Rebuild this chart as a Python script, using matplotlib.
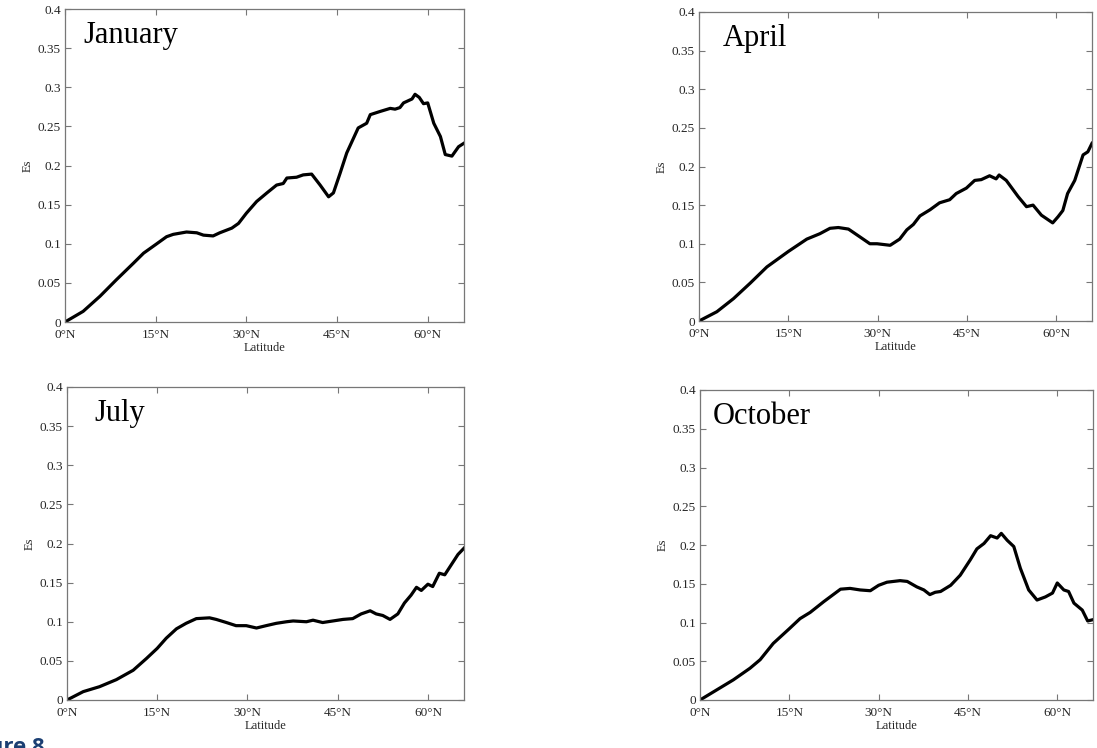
import numpy as np
import matplotlib
matplotlib.use('Agg')
import matplotlib.pyplot as plt

plt.rcParams['font.family'] = ['Liberation Serif', 'DejaVu Serif']

# values (latitude in degrees N, Es)
jan_lat = [0, 3.0, 5.8, 8.5, 11.3, 13.0, 15.0, 16.8, 17.9, 20.1, 21.8, 22.9, 24.5, 25.6, 27.6,
           28.7, 30.0, 31.7, 33.4, 35.0, 36.1, 36.7, 38.3, 39.4, 40.8, 42.2, 43.6, 44.4, 45.5,
           46.6, 48.5, 49.9, 50.5, 52.1, 53.8, 54.6, 55.4, 56.0, 57.4, 57.9, 58.6, 59.3, 60.0,
           61.0, 62.1, 62.9, 64.0, 65.1, 66.1]
jan_es = [0, 0.0136, 0.033, 0.054, 0.075, 0.088, 0.099, 0.109, 0.112, 0.115, 0.114, 0.111, 0.110,
          0.114, 0.120, 0.126, 0.139, 0.154, 0.165, 0.175, 0.177, 0.184, 0.185, 0.188, 0.189,
          0.175, 0.160, 0.165, 0.190, 0.216, 0.248, 0.254, 0.265, 0.269, 0.273, 0.272, 0.274,
          0.280, 0.285, 0.291, 0.287, 0.279, 0.280, 0.254, 0.237, 0.214, 0.212, 0.224, 0.229]

apr_lat = [0, 3.0, 5.8, 8.6, 11.4, 15.0, 18.1, 20.3, 22.0, 23.4, 25.1, 27.0, 28.7, 29.9, 32.1,
           33.7, 34.9, 36.0, 37.1, 38.8, 40.4, 42.1, 43.2, 44.9, 46.3, 47.4, 48.8, 49.9, 50.4,
           51.6, 53.6, 55.0, 56.1, 57.5, 59.4, 60.3, 61.1, 61.9, 63.1, 64.5, 65.3, 66.0]
apr_es = [0, 0.012, 0.029, 0.049, 0.070, 0.090, 0.106, 0.113, 0.120, 0.121, 0.119, 0.109, 0.100,
          0.100, 0.098, 0.106, 0.118, 0.125, 0.136, 0.144, 0.153, 0.157, 0.165, 0.172, 0.182,
          0.183, 0.188, 0.184, 0.189, 0.182, 0.161, 0.148, 0.150, 0.137, 0.127, 0.135, 0.143,
          0.165, 0.182, 0.215, 0.219, 0.230]

jul_lat = [0, 2.7, 5.4, 8.2, 11.0, 13.2, 15.0, 16.5, 18.2, 19.8, 21.5, 23.7, 24.8, 26.5, 28.1,
           29.8, 31.5, 33.1, 34.8, 36.5, 37.6, 39.8, 40.9, 42.5, 44.2, 45.9, 47.5, 48.9, 50.4,
           51.4, 52.5, 53.7, 55.0, 56.1, 57.2, 58.1, 58.9, 60.0, 60.8, 61.9, 62.8, 63.9, 65.0, 66.0]
jul_es = [0, 0.0107, 0.017, 0.026, 0.038, 0.053, 0.066, 0.079, 0.091, 0.098, 0.104, 0.105, 0.103,
          0.099, 0.095, 0.095, 0.092, 0.095, 0.098, 0.100, 0.101, 0.100, 0.102, 0.099, 0.101,
          0.103, 0.104, 0.110, 0.114, 0.110, 0.108, 0.103, 0.110, 0.124, 0.134, 0.144, 0.140,
          0.148, 0.145, 0.162, 0.160, 0.173, 0.186, 0.194]

oct_lat = [0, 2.8, 5.6, 8.4, 10.1, 12.3, 15.0, 16.8, 18.5, 20.8, 22.2, 23.6, 25.2, 26.9, 28.6,
           30.0, 31.4, 33.6, 34.8, 36.4, 37.6, 38.6, 39.5, 40.4, 42.1, 43.7, 45.4, 46.5, 47.7,
           48.8, 49.9, 50.6, 51.6, 52.7, 53.8, 55.2, 56.6, 58.0, 59.2, 60.0, 61.1, 61.9, 62.8,
           64.2, 65.1, 66.2]
oct_es = [0, 0.013, 0.026, 0.041, 0.052, 0.073, 0.092, 0.105, 0.113, 0.127, 0.135, 0.143, 0.144,
          0.142, 0.141, 0.148, 0.152, 0.154, 0.153, 0.146, 0.142, 0.136, 0.139, 0.140, 0.148,
          0.161, 0.181, 0.195, 0.202, 0.212, 0.209, 0.215, 0.206, 0.198, 0.170, 0.142, 0.129,
          0.133, 0.138, 0.151, 0.142, 0.140, 0.125, 0.116, 0.102, 0.104]

xticks = [0, 15, 30, 45, 60]
xticklabels = ['0°N', '15°N', '30°N', '45°N', '60°N']
yticks = [0, 0.05, 0.1, 0.15, 0.2, 0.25, 0.3, 0.35, 0.4]
yticklabels = ['0', '0.05', '0.1', '0.15', '0.2', '0.25', '0.3', '0.35', '0.4']

W, H = 1097, 748
fig = plt.figure(figsize=(W / 100, H / 100), dpi=100)

def px_axes(l, r, t, b):
    return fig.add_axes([l / W, (H - b) / H, (r - l) / W, (b - t) / H])

panels = [
    ('January', jan_lat, jan_es, (65, 464, 9, 322), (0.045, 0.891)),
    ('April', apr_lat, apr_es, (699, 1092, 12, 321), (0.061, 0.890)),
    ('July', jul_lat, jul_es, (67, 464, 387, 700), (0.070, 0.891)),
    ('October', oct_lat, oct_es, (700, 1093, 390, 700), (0.033, 0.890)),
]

for name, lat, es, box, tpos in panels:
    ax = px_axes(*box)
    ax.plot(lat, es, color='black', lw=2.3)
    ax.set_xlim(0, 66)
    ax.set_ylim(0, 0.4)
    ax.set_xticks(xticks)
    ax.set_xticklabels(xticklabels)
    ax.set_yticks(yticks)
    ax.set_yticklabels(yticklabels)
    ax.tick_params(direction='in', top=True, right=True, length=4, width=0.8,
                   color='#777777', labelsize=9.5, labelcolor='#262626')
    ax.tick_params(axis='x', pad=5)
    ax.tick_params(axis='y', pad=3)
    for s in ax.spines.values():
        s.set_color('#777777')
        s.set_linewidth(0.9)
    ax.set_xlabel('Latitude', fontsize=9, color='#262626', labelpad=1)
    ax.set_ylabel('Es', fontsize=9, color='#262626', labelpad=3)
    ax.text(tpos[0], tpos[1], name, transform=ax.transAxes, fontsize=22,
            va='baseline', ha='left', color='black')

# caption cut off at the bottom-left edge of the image
fig.text(45 / W, -10 / H, 'Figure 8', ha='right', va='bottom', fontsize=16,
         fontweight='bold', color='#1b3f73', family='Open Sans')

fig.savefig('out.png', dpi=100)
